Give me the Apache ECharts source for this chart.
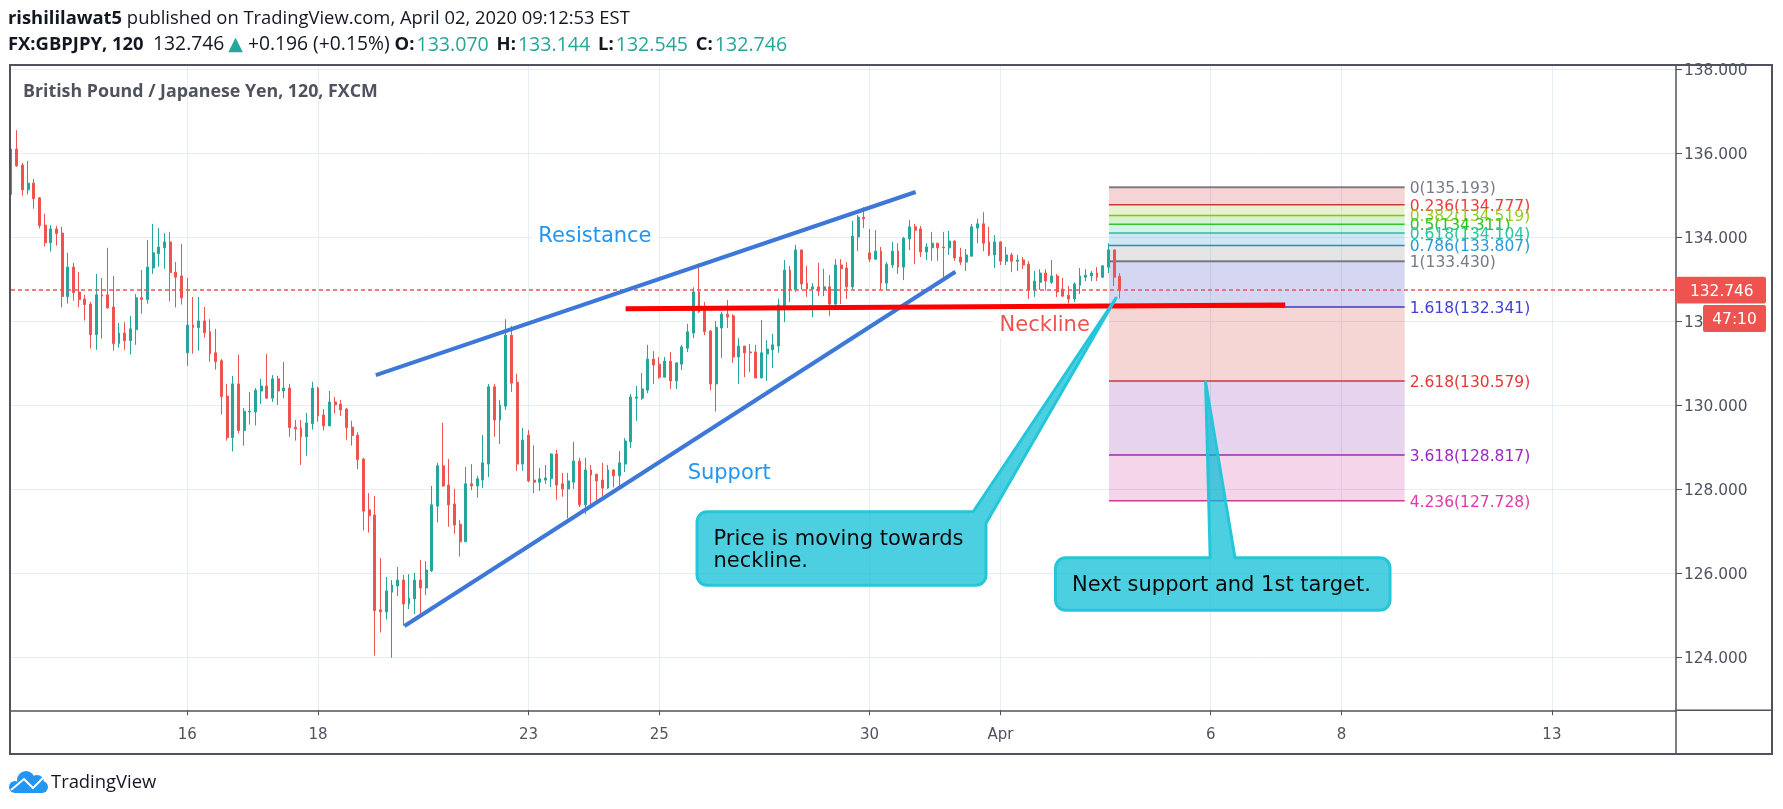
<!DOCTYPE html>
<html><head><meta charset="utf-8">
<style>html,body{margin:0;padding:0;background:#fff}#c{width:1783px;height:809px}</style>
<script src="https://cdn.jsdelivr.net/npm/echarts@6/dist/echarts.min.js"></script>
</head><body><div id="c"></div>
<script>
const opens=[135.02,136.10,135.72,135.13,135.29,134.94,134.29,133.87,134.20,134.10,
132.59,133.29,132.70,132.53,132.41,131.68,132.63,132.63,132.34,131.47,
131.72,131.54,131.80,132.56,132.52,133.27,133.61,133.75,133.89,133.17,
133.08,131.25,131.91,131.85,132.01,131.75,131.25,131.06,130.22,129.23,
130.51,129.40,129.84,129.84,130.34,130.46,130.17,130.63,130.34,130.41,
129.48,129.46,129.25,129.56,130.41,129.77,129.51,130.08,130.03,129.91,
129.48,129.29,128.72,127.51,127.39,125.13,125.08,125.55,125.70,125.84,
125.27,125.39,125.84,125.65,126.06,127.60,128.56,128.10,127.65,127.17,
126.75,128.13,128.08,128.22,128.60,130.44,129.65,129.98,131.67,130.55,
128.60,129.29,128.22,128.17,128.22,128.25,128.84,128.13,128.01,128.17,
128.67,127.63,128.46,128.36,128.22,128.03,128.46,128.32,128.60,129.13,
130.17,130.17,130.36,131.10,130.98,130.67,131.05,130.58,130.98,131.36,
131.72,132.70,132.25,131.77,130.51,131.84,132.17,132.13,131.15,131.41,
131.27,131.27,130.65,131.22,131.32,131.41,132.36,133.22,132.75,133.70,
132.91,132.77,132.82,132.75,132.82,132.41,133.34,133.27,132.82,134.01,
134.48,133.63,133.48,133.67,132.91,133.34,133.67,133.29,133.96,134.25,
134.20,133.65,133.75,133.86,133.77,133.75,133.91,133.53,133.41,133.55,
134.22,134.32,133.89,133.58,133.89,133.43,133.58,133.43,133.46,133.36,
132.75,132.93,133.15,132.93,133.08,132.77,132.62,132.53,132.86,133.05,
133.08,133.15,133.05,133.29,133.70,133.070];
const closes=[136.10,135.70,135.13,135.29,134.92,134.28,133.87,134.20,134.09,132.59,
133.29,132.68,132.52,132.40,131.68,132.63,132.60,132.32,131.47,131.72,
131.54,131.82,132.56,132.52,133.29,133.63,133.77,133.89,133.16,133.05,
132.56,131.91,131.85,132.01,131.73,131.23,131.04,130.21,129.23,130.51,
129.40,129.86,129.86,130.36,130.46,130.17,130.63,130.34,130.41,129.47,
129.44,129.25,129.58,130.41,129.75,129.51,130.08,130.01,129.89,129.47,
129.28,128.71,127.48,127.37,125.11,125.08,125.58,125.72,125.84,125.27,
125.41,125.84,125.65,126.08,127.63,128.56,128.08,127.63,127.15,126.75,
128.13,128.08,128.25,128.63,130.44,129.65,130.01,131.67,130.53,128.60,
129.17,128.20,128.17,128.25,128.27,128.84,128.10,128.01,128.20,128.67,
127.63,128.46,128.34,128.20,128.03,128.46,128.32,128.63,129.15,130.20,
130.20,130.39,131.10,130.96,130.67,131.05,130.58,131.01,131.39,131.75,
132.70,132.22,131.75,130.51,131.86,132.17,132.10,131.15,131.41,131.25,
131.25,130.65,131.25,131.34,131.44,132.39,133.22,132.75,133.70,132.89,
132.77,132.82,132.72,132.82,132.41,133.34,133.25,132.82,134.03,134.48,
134.44,133.48,133.67,132.91,133.36,133.67,133.29,133.98,134.25,134.17,
133.65,133.77,133.86,133.75,133.75,133.91,133.51,133.41,133.58,134.25,
134.32,133.86,133.58,133.89,133.43,133.58,133.43,133.46,133.34,132.75,
132.96,133.15,132.96,133.08,132.70,132.60,132.53,132.89,133.08,133.10,
133.15,133.05,133.32,133.70,133.05,132.746];
const lows=[133.97,135.68,134.99,135.02,134.68,134.21,133.78,133.66,133.80,132.33,
132.42,132.49,132.33,132.02,131.35,131.32,131.59,132.30,131.30,131.37,
131.32,131.21,131.44,132.18,132.42,133.13,133.30,133.25,132.47,132.33,
132.40,130.94,131.23,131.30,131.61,131.04,130.85,129.78,129.16,128.90,
129.33,129.04,129.54,129.52,130.03,130.15,130.08,130.01,130.17,129.25,
129.16,128.58,128.80,129.42,129.61,129.40,129.51,129.80,129.75,129.18,
129.04,128.48,127.02,126.97,124.04,124.59,124.90,123.99,125.46,124.75,
125.15,125.03,125.03,125.48,126.03,127.21,128.06,127.11,126.94,126.40,
126.75,127.98,127.80,128.03,128.29,129.25,129.08,129.89,130.32,128.44,
128.44,128.17,127.91,127.96,128.13,128.05,127.75,127.82,127.31,128.01,
127.58,127.41,127.63,127.71,127.83,128.01,128.05,128.08,128.41,128.98,
129.63,130.13,130.29,130.51,130.63,130.67,130.39,130.39,130.84,131.27,
131.60,132.20,131.67,130.36,129.85,131.13,131.84,131.01,130.51,130.67,
130.79,130.65,130.65,130.58,130.89,131.25,131.98,132.46,132.70,132.75,
132.58,132.10,132.60,132.60,132.13,132.39,132.41,132.53,132.77,133.67,
134.22,133.41,133.46,132.75,132.75,133.27,133.13,132.98,133.70,133.36,
133.53,133.46,133.44,133.44,133.01,133.58,133.44,133.34,133.20,133.55,
133.86,133.67,133.55,133.27,133.34,133.34,133.17,133.20,133.24,132.53,
132.58,132.75,132.73,132.89,132.58,132.58,132.43,132.46,132.65,132.96,
132.96,132.96,133.03,133.15,132.84,132.545];
const highs=[136.29,136.55,135.77,135.82,135.39,134.96,134.56,134.29,134.27,134.25,
133.63,133.39,133.17,132.63,132.46,133.13,133.03,133.75,133.08,131.96,
131.98,132.13,132.65,133.22,133.94,134.32,134.22,134.10,134.13,133.41,
133.84,133.03,132.58,132.58,132.34,132.05,131.82,131.10,130.51,130.70,
131.20,129.94,130.32,130.41,130.63,131.22,130.72,130.70,131.03,130.51,
129.65,129.65,129.82,130.56,130.44,129.91,130.34,130.20,130.13,129.94,
129.63,129.36,128.75,127.91,127.84,126.36,125.91,125.84,126.15,125.96,
125.98,126.01,126.32,126.29,128.08,128.63,129.58,128.72,128.01,127.27,
128.53,128.60,128.32,129.29,130.51,130.51,130.13,132.05,131.89,130.75,
129.46,129.41,129.05,128.51,128.58,128.86,128.94,128.39,128.39,129.13,
128.75,128.75,128.58,128.36,128.63,128.58,128.48,128.91,129.22,130.27,
130.46,130.77,131.44,131.29,131.15,131.15,131.27,131.03,131.44,131.94,
132.81,133.38,132.46,131.79,132.01,132.22,132.51,132.17,131.60,131.41,
131.46,131.44,132.03,131.55,131.70,132.54,133.46,133.32,133.82,133.70,
133.32,132.91,133.39,133.25,133.10,133.48,133.48,133.41,134.39,134.53,
134.72,134.20,134.17,133.77,133.41,133.89,133.86,134.01,134.41,134.32,
134.27,133.86,134.13,133.86,134.13,134.15,133.93,133.75,133.72,134.32,
134.44,134.60,134.25,134.05,133.91,133.77,133.63,133.58,133.53,133.43,
133.20,133.24,133.24,133.46,133.13,133.03,132.84,132.93,133.27,133.24,
133.20,133.29,133.34,133.86,133.70,133.144];

const xTickBars=[31,54,91,114,151,174,211,234,271];
const xTickLabels=['16','18','23','25','30','Apr','6','8','13'];
const yTicks=[124,126,128,130,132,134,136,138];
const lastPrice=132.746;
const countdown='47:10';

const fibRatios=['0','0.236','0.382','0.5','0.618','0.786','1','1.618','2.618','3.618','4.236'];
const fibPrices=[135.193,134.777,134.519,134.311,134.104,133.807,133.430,132.341,130.579,128.817,127.728];
const fibSpan=[193.1,245.1];
const fibColors=['#787b86','#c62828','#8cbe14','#2dc30f','#1ec38c','#0f8cc8','#787b78','#2d32be','#d32f2f','#8e24aa','#c82d96'];
const fibTextColors=['#787b86','#ef3b3b','#97cc22','#2dc32d','#26c6a0','#2b9ad8','#787b86','#3f3fd8','#e53935','#9c27c8','#e03aa8'];

const resistanceLine=[[64.16,130.721],[159.1,135.079]];
const supportLine=[[69.2,124.745],[166.1,133.181]];
const necklineLine=[[108.1,132.30],[224.1,132.388]];

const noteLabels=['Resistance','Support','Neckline'];
const notePoints=[[102.7,134.03],[126.3,128.37],[181.8,131.89]];
const noteColors=['#2196f3','#2196f3','#ef5350'];

const calloutTexts=[['Price is moving towards','neckline.'],['Next support and 1st target.']];
const calloutBoxes=[[120.65,127.467,171.47,125.714],[183.7,126.371,242.53,125.119]];
const calloutTails=[[[169.24,127.467],[194.34,132.555],[171.47,127.19]],[[210.9,126.371],[210.09,130.562],[215.26,126.371]]];

const TEXT='#50535e', GRID='#e6edf3', FONT='"DejaVu Sans"', HEAD='"Open Sans"';
const barX=5.686, xMax=1665/barX, yMin=122.738, yMax=138.079;

const chart=echarts.init(document.getElementById('c'),null,{renderer:'canvas'});
const candleData=opens.map((o,i)=>[i,o,closes[i],lows[i],highs[i]]);

function fibRender(params,api){
  const i=params.dataIndex, kids=[];
  const xa=api.coord([fibSpan[0],fibPrices[i]]), xb=api.coord([fibSpan[1],fibPrices[i]]);
  if(i>0){
    const up=api.coord([fibSpan[0],fibPrices[i-1]]);
    kids.push({type:'rect',shape:{x:xa[0],y:up[1],width:xb[0]-xa[0],height:xa[1]-up[1]},style:{fill:fibColors[i],opacity:0.2},silent:true});
  }
  kids.push({type:'line',shape:{x1:xa[0],y1:xa[1],x2:xb[0],y2:xb[1]},style:{stroke:fibColors[i],lineWidth:(i===0||i===6)?2:1.5,opacity:0.95}});
  kids.push({type:'text',style:{x:xb[0]+5,y:xb[1]+1.8,text:fibRatios[i]+'('+fibPrices[i].toFixed(3)+')',fill:fibTextColors[i],font:'15.5px '+FONT,align:'left',verticalAlign:'middle'}});
  return {type:'group',children:kids};
}
function noteRender(params,api){
  const i=params.dataIndex,p=api.coord(notePoints[i]);
  return {type:'text',style:{x:p[0],y:p[1],text:noteLabels[i],fill:noteColors[i],font:'21px '+FONT,align:'center',verticalAlign:'middle',backgroundColor:'#fff',padding:[2,6]}};
}
function arc(cx,cy,r,a0,a1){
  const out=[];
  for(let k=0;k<=5;k++){const a=a0+(a1-a0)*k/5;out.push([cx+r*Math.cos(a),cy+r*Math.sin(a)]);}
  return out;
}
function calloutRender(params,api){
  const i=params.dataIndex,b=calloutBoxes[i],t=calloutTails[i];
  const p0=api.coord([b[0],b[1]]),p1=api.coord([b[2],b[3]]);
  const x0=p0[0],y0=p0[1],x1=p1[0],y1=p1[1],r=10,PI=Math.PI;
  const A=api.coord(t[0]),T=api.coord(t[1]),B=api.coord(t[2]);
  const onRight=Math.abs(B[0]-x1)<1;
  let pts=[].concat(arc(x0+r,y0+r,r,PI,1.5*PI),[A,T,B]);
  if(!onRight) pts=pts.concat(arc(x1-r,y0+r,r,-PI/2,0));
  pts=pts.concat(arc(x1-r,y1-r,r,0,PI/2),arc(x0+r,y1-r,r,PI/2,PI));
  const lines=calloutTexts[i],kids=[{type:'polygon',shape:{points:pts},style:{fill:'rgba(0,188,212,0.7)',stroke:'#26c6da',lineWidth:3,lineJoin:'round'}}];
  const mid=(y0+y1)/2,lh=21.7;
  lines.forEach((s,k)=>{
    kids.push({type:'text',style:{x:x0+16.5,y:mid+(k-(lines.length-1)/2)*lh+2,text:s,fill:'#0b0b0b',font:'21px '+FONT,align:'left',verticalAlign:'middle'}});
  });
  return {type:'group',children:kids};
}
function tagRender(params,api){
  const p=api.coord([xMax,lastPrice]),x=p[0],y=p[1];
  return {type:'group',children:[
    {type:'rect',shape:{x:x,y:y-13.3,width:90,height:26.7,r:2},style:{fill:'#ef5350'}},
    {type:'text',style:{x:x+14,y:y+1.7,text:lastPrice.toFixed(3),fill:'#fff',font:'15.4px '+FONT,align:'left',verticalAlign:'middle'}},
    {type:'rect',shape:{x:x+27,y:y+15,width:63,height:27,r:2},style:{fill:'#ef5350'}},
    {type:'text',style:{x:x+58.5,y:y+30.5,text:countdown,fill:'#fff',font:'15.4px '+FONT,align:'center',verticalAlign:'middle'}}
  ]};
}
const trend=(name,data,color,w,z)=>({type:'line',name,data,z,symbol:'none',silent:true,clip:false,lineStyle:{color,width:w,cap:'butt'},animation:false});

const up='#26a69a',down='#ef5350';
const head=18.4, digits=19.3;
chart.setOption({
  animation:false,backgroundColor:'#fff',
  title:[
    {left:8,top:10,padding:0,text:'{b|rishililawat5} published on TradingView.com, April 02, 2020 09:12:53 EST',
     textStyle:{fontWeight:'normal',fontFamily:HEAD,fontSize:head,color:'#131722',rich:{b:{fontWeight:'bold',fontFamily:HEAD,fontSize:head,color:'#131722'}}}},
    {left:8,top:35,padding:0,text:'{b|FX:GBPJPY, 120}  {n|132.746}{t|▲}{n| +0.196 (+0.15%) }{b|O:}{u|133.070} {b|H:}{u|133.144} {b|L:}{u|132.545} {b|C:}{u|132.746}',
     textStyle:{fontWeight:'normal',fontFamily:HEAD,fontSize:head,color:'#131722',rich:{
       b:{fontWeight:'bold',fontFamily:HEAD,fontSize:head,color:'#131722'},
       n:{fontFamily:HEAD,fontSize:digits,color:'#131722'},
       t:{fontFamily:FONT,fontSize:19,color:up,padding:[0,0,0,4]},
       u:{fontFamily:HEAD,fontSize:19.6,color:up,padding:[0,3,0,2]}}}},
    {left:23,top:83,padding:0,text:'British Pound / Japanese Yen, 120, FXCM',textStyle:{fontFamily:HEAD,fontSize:17.8,fontWeight:'bold',color:TEXT}}
  ],
  grid:{left:11,top:66,width:1665,height:644.3,containLabel:false},
  xAxis:{type:'value',min:0,max:xMax,
    axisLine:{show:true,onZero:false,lineStyle:{color:TEXT,width:1.5}},
    axisTick:{show:true,length:5,customValues:xTickBars,lineStyle:{color:TEXT}},
    axisLabel:{customValues:xTickBars,color:TEXT,fontFamily:FONT,fontSize:15,margin:17,formatter:v=>xTickLabels[xTickBars.indexOf(Math.round(v))]||''},
    splitLine:{show:true,customValues:xTickBars,lineStyle:{color:GRID,width:1}}},
  yAxis:{type:'value',position:'right',min:yMin,max:yMax,scale:true,
    axisLine:{show:true,onZero:false,lineStyle:{color:TEXT,width:1.5}},
    axisTick:{show:true,length:6,customValues:yTicks,lineStyle:{color:TEXT}},
    axisLabel:{customValues:yTicks,color:TEXT,margin:8,formatter:v=>'{a|'+v.toFixed(3)+'}',
      rich:{a:{color:TEXT,fontFamily:FONT,fontSize:15.4,padding:[4,0,0,0]}}},
    splitLine:{show:true,customValues:yTicks,lineStyle:{color:GRID,width:1}}},
  series:[
    {type:'custom',name:'fib',z:1,data:fibPrices.map((p,i)=>[i]),renderItem:fibRender,silent:true,clip:false},
    {type:'candlestick',name:'GBPJPY',z:3,data:candleData,encode:{x:0,y:[1,2,3,4]},barWidth:2.4,clip:true,
      itemStyle:{color:up,color0:down,borderColor:up,borderColor0:down,borderWidth:1,borderColorDoji:down}},
    {type:'line',name:'last',z:4,data:[[0,lastPrice],[xMax,lastPrice]],symbol:'none',silent:true,lineStyle:{color:down,width:1.5,type:[4,3]}},
    trend('resistance',resistanceLine,'#3d78d8',4,5),
    trend('support',supportLine,'#3d78d8',4,5),
    trend('neckline',necklineLine,'#ff0000',5,5),
    {type:'custom',name:'notes',z:2,data:noteLabels.map((s,i)=>[i]),renderItem:noteRender,silent:true,clip:false},
    {type:'custom',name:'callouts',z:6,data:calloutTexts.map((s,i)=>[i]),renderItem:calloutRender,silent:true,clip:false},
    {type:'custom',name:'tags',z:7,data:[[0]],renderItem:tagRender,silent:true,clip:false}
  ],
  graphic:[
    {type:'rect',z:50,silent:true,shape:{x:10,y:65,width:1762,height:689},style:{fill:'none',stroke:TEXT,lineWidth:2}},
    {type:'line',z:50,silent:true,shape:{x1:1676,y1:710.3,x2:1772,y2:710.3},style:{stroke:TEXT,lineWidth:1.5}},
    {type:'line',z:50,silent:true,shape:{x1:1676,y1:710,x2:1676,y2:754},style:{stroke:TEXT,lineWidth:1.5}},
    {type:'circle',z:50,silent:true,shape:{cx:15,cy:787,r:6},style:{fill:'#2196f3'}},
    {type:'circle',z:50,silent:true,shape:{cx:26,cy:780,r:9},style:{fill:'#2196f3'}},
    {type:'circle',z:50,silent:true,shape:{cx:37,cy:782,r:7},style:{fill:'#2196f3'}},
    {type:'circle',z:50,silent:true,shape:{cx:42,cy:787,r:6},style:{fill:'#2196f3'}},
    {type:'rect',z:50,silent:true,shape:{x:15,y:785,width:27,height:8},style:{fill:'#2196f3'}},
    {type:'polyline',z:51,silent:true,shape:{points:[[11,790],[24,779],[33,788],[44,777]]},style:{fill:'none',stroke:'#fff',lineWidth:2}},
    {type:'text',z:50,silent:true,style:{x:51,y:783,text:'TradingView',fill:'#131722',font:'18.4px '+HEAD,align:'left',verticalAlign:'middle'}}
  ]
});
</script></body></html>
